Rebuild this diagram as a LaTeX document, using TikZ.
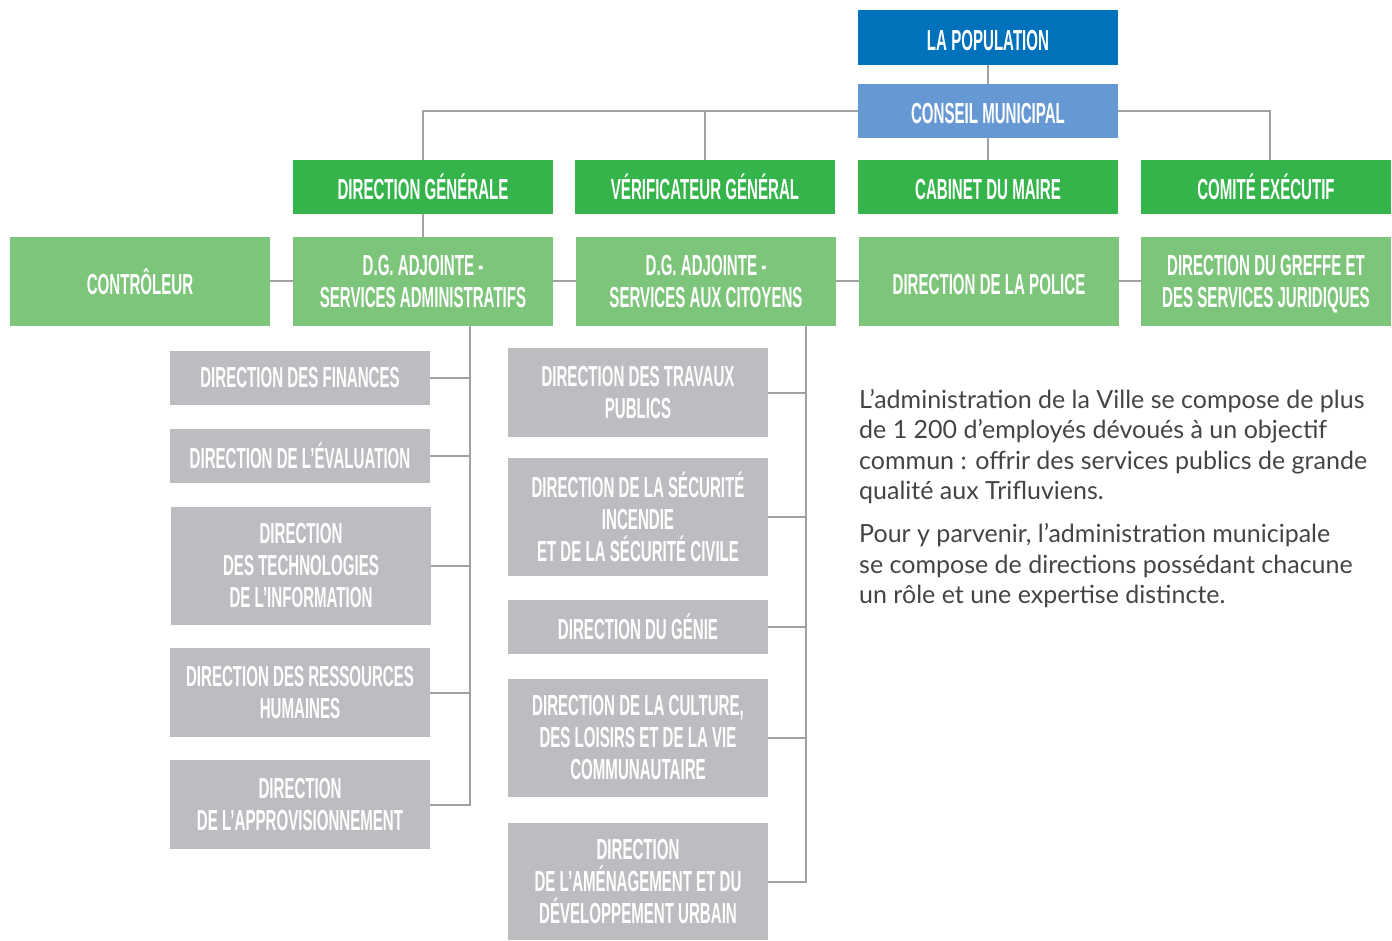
\documentclass[tikz,border=0pt]{standalone}
\usepackage{fontspec}
\newfontfamily\cond[FakeStretch=0.52]{Liberation Sans Bold}
\newfontfamily\bodyfont{Lato}
\definecolor{cblue}{HTML}{0071BB}
\definecolor{clblue}{HTML}{6699D3}
\definecolor{cgreen}{HTML}{34B44A}
\definecolor{clgreen}{HTML}{7DC57A}
\definecolor{cgrey}{HTML}{BCBDC0}
\definecolor{cline}{HTML}{A0A1A4}
\definecolor{ctext}{HTML}{444444}
\tikzset{
  box/.style={inner sep=0pt, minimum width=260pt, text=white, align=center,
     font=\cond\fontsize{29}{32}\selectfont},
  bluebox/.style={box, fill=cblue, minimum height=55pt},
  lbluebox/.style={box, fill=clblue, minimum height=54pt},
  greenbox/.style={box, fill=cgreen, minimum height=54pt},
  lgreenbox/.style={box, fill=clgreen, minimum height=89pt},
  greybox/.style={box, fill=cgrey},
  conn/.style={draw=cline, line width=2pt},
}
\begin{document}
\begin{tikzpicture}[x=1pt,y=-1pt]
\useasboundingbox (0,0) rectangle (1392,941);
% top
\node[bluebox] (pop) at (988,37.5) {\vphantom{É}LA POPULATION};
\node[lbluebox] (cm) at (988,111) {\vphantom{É}CONSEIL MUNICIPAL};
% row 2
\node[greenbox] (dg) at (423,187) {DIRECTION GÉNÉRALE};
\node[greenbox] (vg) at (705,187) {VÉRIFICATEUR GÉNÉRAL};
\node[greenbox] (cab) at (988,187) {\vphantom{É}CABINET DU MAIRE};
\node[greenbox, minimum width=250pt] (ce) at (1266,187) {COMITÉ EXÉCUTIF};
% row 3
\node[lgreenbox] (ctrl) at (140,281.5) {CONTRÔLEUR};
\node[lgreenbox] (dgasa) at (423,281.5) {D.G. ADJOINTE -\\SERVICES ADMINISTRATIFS};
\node[lgreenbox] (dgasc) at (706,281.5) {D.G. ADJOINTE -\\SERVICES AUX CITOYENS};
\node[lgreenbox] (pol) at (989,281.5) {\vphantom{É}DIRECTION DE LA POLICE};
\node[lgreenbox, minimum width=250pt] (gr) at (1266,281.5) {\vphantom{É}DIRECTION DU GREFFE ET\\DES SERVICES JURIDIQUES};
% left column
\node[greybox, minimum height=54pt] (fin) at (300,378) {DIRECTION DES FINANCES};
\node[greybox, minimum height=54pt] (eva) at (300,456) {DIRECTION DE L’ÉVALUATION};
\node[greybox, minimum height=118pt] (tech) at (301,566) {DIRECTION\\DES TECHNOLOGIES\\DE L’INFORMATION};
\node[greybox, minimum height=89pt] (rh) at (300,692.5) {DIRECTION DES RESSOURCES\\HUMAINES};
\node[greybox, minimum height=89pt] (appro) at (300,804.5) {DIRECTION\\DE L’APPROVISIONNEMENT};
% middle column
\node[greybox, minimum height=89pt] (tp) at (638,392.5) {DIRECTION DES TRAVAUX\\PUBLICS};
\node[greybox, minimum height=118pt] (sec) at (638,517) {DIRECTION DE LA SÉCURITÉ\\INCENDIE\\ET DE LA SÉCURITÉ CIVILE};
\node[greybox, minimum height=54pt] (gen) at (638,627) {DIRECTION DU GÉNIE};
\node[greybox, minimum height=118pt] (cul) at (638,738) {DIRECTION DE LA CULTURE,\\DES LOISIRS ET DE LA VIE\\COMMUNAUTAIRE};
\node[greybox, minimum height=117pt] (am) at (638,881.5) {DIRECTION\\DE L’AMÉNAGEMENT ET DU\\DÉVELOPPEMENT URBAIN};
% text
\node[anchor=north west, inner sep=0pt, align=left, text=ctext,
  font=\bodyfont\fontsize{25}{30.5}\selectfont] (txt) at (859,389)
  {L’administration de la Ville se compose de plus\\
   de 1 200 d’employés dévoués à un objectif\\
   commun : offrir des services publics de grande\\
   qualité aux Trifluviens.\\[12.5pt]
   Pour y parvenir, l’administration municipale\\
   se compose de directions possédant chacune\\
   un rôle et une expertise distincte.};
% connectors
\coordinate (lt) at (470,326);
\coordinate (mt) at (806,326);
\coordinate (cet) at (1270,160);
\draw[conn] (pop.south) -- (cm.north);
\draw[conn] (cm.south) -- (cab.north);
\draw[conn] (dg.north) |- (cm.west);
\draw[conn] (cm.east) -| (cet);
\draw[conn] (vg.north) -- (vg.north |- cm.west);
\draw[conn] (dg.south) -- (dgasa.north);
\draw[conn] (ctrl.east) -- (dgasa.west);
\draw[conn] (dgasa.east) -- (dgasc.west);
\draw[conn] (dgasc.east) -- (pol.west);
\draw[conn] (pol.east) -- (gr.west);
\draw[conn] (lt) |- (appro.east);
\draw[conn] (fin.east) -- (fin.east -| lt);
\draw[conn] (eva.east) -- (eva.east -| lt);
\draw[conn] (tech.east) -- (tech.east -| lt);
\draw[conn] (rh.east) -- (rh.east -| lt);
\draw[conn] (mt) |- (am.east);
\draw[conn] (tp.east) -- (tp.east -| mt);
\draw[conn] (sec.east) -- (sec.east -| mt);
\draw[conn] (gen.east) -- (gen.east -| mt);
\draw[conn] (cul.east) -- (cul.east -| mt);
\end{tikzpicture}
\end{document}
